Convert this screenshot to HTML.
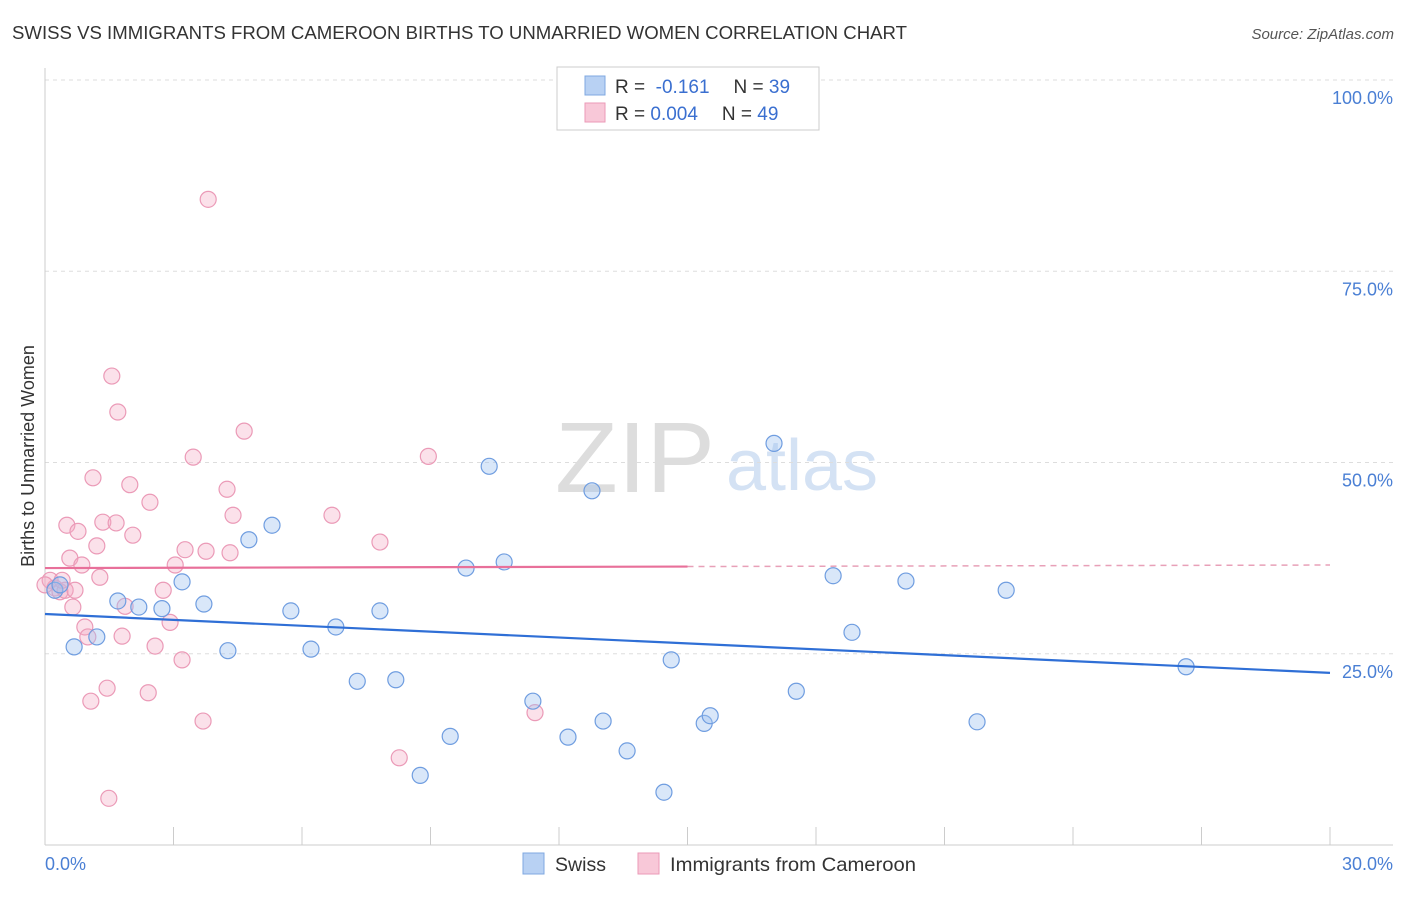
<!DOCTYPE html>
<html><head><meta charset="utf-8"><style>
body{margin:0;background:#fff;font-family:"Liberation Sans",sans-serif;}
svg text{font-family:"Liberation Sans",sans-serif;}
</style></head><body>
<svg id="chart" width="1406" height="892" xmlns="http://www.w3.org/2000/svg">
<text x="12" y="39" font-size="18.6" fill="#333">SWISS VS IMMIGRANTS FROM CAMEROON BIRTHS TO UNMARRIED WOMEN CORRELATION CHART</text>
<text x="1394" y="39" font-size="15" fill="#555" font-style="italic" text-anchor="end">Source: ZipAtlas.com</text>
<g>
<text x="555" y="492" font-size="100" fill="#ddd" font-family="Liberation Serif" textLength="160" lengthAdjust="spacingAndGlyphs">ZIP</text>
<text x="802" y="490" font-size="72" fill="#d4e2f4" text-anchor="middle">atlas</text>
</g>
<g id="grid"></g>
<g id="axes"></g>
<g id="marks"></g>
<g>
<rect x="557" y="67" width="262" height="63" fill="#fff" stroke="#ccc"/>
<rect x="585" y="76" width="20" height="19" fill="#b8d1f3" stroke="#7fa8e0"/>
<text x="615" y="93" font-size="19" fill="#333">R = <tspan fill="#3a6fd0">&#160;-0.161</tspan><tspan dx="24">N = </tspan><tspan fill="#3a6fd0">39</tspan></text>
<rect x="585" y="103" width="20" height="19" fill="#f8c8d8" stroke="#eb9ab7"/>
<text x="615" y="120" font-size="19" fill="#333">R = <tspan fill="#3a6fd0">0.004</tspan><tspan dx="24">N = </tspan><tspan fill="#3a6fd0">49</tspan></text>
</g>
<g>
<rect x="523" y="853" width="21" height="21" fill="#b8d1f3" stroke="#7fa8e0"/>
<text x="555" y="871" font-size="19.5" fill="#333" textLength="51" lengthAdjust="spacingAndGlyphs">Swiss</text>
<rect x="638" y="853" width="21" height="21" fill="#f8c8d8" stroke="#eb9ab7"/>
<text x="670" y="871" font-size="19.5" fill="#333" textLength="246" lengthAdjust="spacingAndGlyphs">Immigrants from Cameroon</text>
</g>
</svg>
<script>
const swissX=[0.23,0.35,0.68,1.21,1.70,2.19,2.73,3.20,3.71,4.27,4.76,5.30,5.74,6.21,6.79,7.29,7.82,8.19,8.76,9.46,9.83,10.37,10.72,11.39,12.21,12.77,13.03,13.59,14.45,14.62,15.39,15.53,17.02,17.54,18.40,18.84,20.10,21.76,22.44,26.64];
const swissY=[33.3,34.0,25.9,27.2,31.9,31.1,30.9,34.4,31.5,25.4,39.9,41.8,30.6,25.6,28.5,21.4,30.6,21.6,9.1,14.2,36.2,49.5,37.0,18.8,14.1,46.3,16.2,12.3,6.9,24.2,15.9,16.9,52.5,20.1,35.2,27.8,34.5,16.1,33.3,23.3];
const camX=[0.12,0.23,0.35,0.47,0.51,0.58,0.65,0.70,0.77,0.86,0.93,1.00,1.07,1.12,1.21,1.28,1.35,1.45,1.49,1.56,1.66,1.70,1.80,1.87,1.98,2.05,2.41,2.45,2.57,2.76,2.92,3.04,3.20,3.27,3.46,3.69,3.76,3.81,4.25,4.32,4.39,4.65,6.70,7.82,8.27,8.95,11.44,0.40,0.00];
const camY=[34.6,33.6,33.1,33.3,41.8,37.5,31.1,33.3,41.0,36.6,28.5,27.2,18.8,48.0,39.1,35.0,42.2,20.5,6.1,61.3,42.1,56.6,27.3,31.2,47.1,40.5,19.9,44.8,26.0,33.3,29.1,36.6,24.2,38.6,50.7,16.2,38.4,84.4,46.5,38.2,43.1,54.1,43.1,39.6,11.4,50.8,17.3,34.6,34.0];
const swissTrend=[30.2,22.5];
const camTrend=[36.2,36.6];
const camSolidEnd=15;
const yTicks=[25,50,75,100];
const yTickLabels=["25.0%","50.0%","75.0%","100.0%"];
const xTicks=[0,3,6,9,12,15,18,21,24,27,30];
const xLabels=["0.0%","30.0%"];

const X=v=>45+v/30*1285;
const Y=v=>845-v/100*765;
const NS="http://www.w3.org/2000/svg";
function mk(p,t,a){const e=document.createElementNS(NS,t);for(const k in a)e.setAttribute(k,a[k]);p.appendChild(e);return e;}
const grid=document.getElementById('grid'),axes=document.getElementById('axes'),marks=document.getElementById('marks');
yTicks.forEach((t,i)=>{
 const l=mk(grid,'line',{x1:45,x2:1393,y1:Y(t),y2:Y(t),stroke:'#ddd','stroke-dasharray':'4,4'});
 
 
 const tx=mk(grid,'text',{x:1393,y:Y(t)+24,'font-size':18,fill:'#4a7fd4','text-anchor':'end'});
 tx.textContent=yTickLabels[i];
 
 
});
const ax=mk(axes,'line',{x1:45,x2:1393,y1:845,y2:845,stroke:'#ccc'});


const ay=mk(axes,'line',{x1:45,x2:45,y1:68,y2:845,stroke:'#ccc'});


xTicks.forEach(t=>{
 const l=mk(axes,'line',{x1:X(t),x2:X(t),y1:827,y2:845,stroke:'#ccc'});
 
 
});
const xl0=mk(axes,'text',{x:45,y:870,'font-size':18,fill:'#4a7fd4'});xl0.textContent=xLabels[0];


const xl1=mk(axes,'text',{x:1393,y:870,'font-size':18,fill:'#4a7fd4','text-anchor':'end'});xl1.textContent=xLabels[1];


const yt=mk(axes,'text',{x:34,y:456,'font-size':18,fill:'#333','text-anchor':'middle',transform:'rotate(-90 34 456)'});
yt.textContent='Births to Unmarried Women';



camX.forEach((v,i)=>{
 const c=mk(marks,'circle',{cx:X(v),cy:Y(camY[i]),r:8,fill:'rgba(244,170,196,0.35)',stroke:'#eb9ab7','stroke-width':1.2});
 
 
});
swissX.forEach((v,i)=>{
 const c=mk(marks,'circle',{cx:X(v),cy:Y(swissY[i]),r:8,fill:'rgba(160,194,240,0.4)',stroke:'#6f9de0','stroke-width':1.2});
 
 
});
const bt=mk(marks,'line',{x1:X(0),y1:Y(swissTrend[0]),x2:X(30),y2:Y(swissTrend[1]),stroke:'#2f6fd6','stroke-width':2.2});


const midY=camTrend[0]+(camTrend[1]-camTrend[0])*camSolidEnd/30;
const pt=mk(marks,'line',{x1:X(0),y1:Y(camTrend[0]),x2:X(camSolidEnd),y2:Y(midY),stroke:'#e8709a','stroke-width':2.2});


const pd=mk(marks,'line',{x1:X(camSolidEnd),y1:Y(midY),x2:X(30),y2:Y(camTrend[1]),stroke:'#e8a0b8','stroke-width':1.5,'stroke-dasharray':'6,5'});


</script>
</body></html>
